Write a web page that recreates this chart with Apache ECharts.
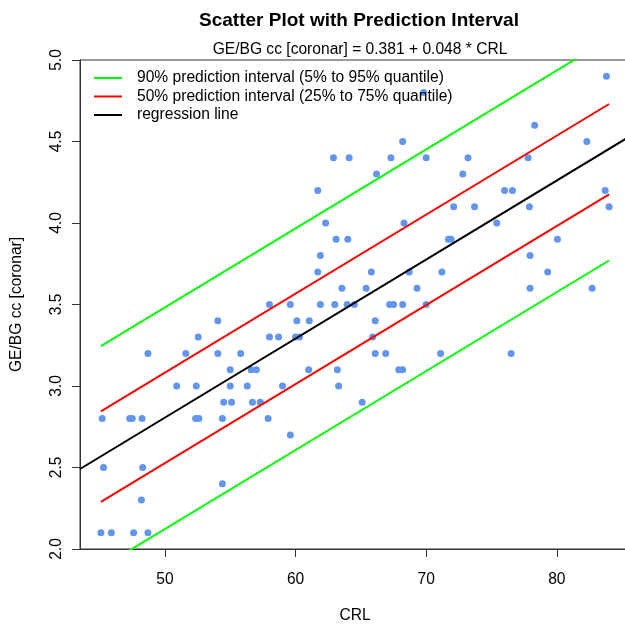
<!DOCTYPE html>
<html>
<head>
<meta charset="utf-8">
<script src="https://cdn.jsdelivr.net/npm/echarts@6/dist/echarts.min.js"></script>
<style>
  html, body { margin: 0; padding: 0; background: #fff; }
  #chart { width: 625px; height: 628px; }
</style>
</head>
<body>
<div id="chart"></div>
<script>
// CRL (x) and GE/BG cc [coronar] (y) of each point
const crl = [
  83.8, 69.8, 78.3, 68.2, 82.3,
  62.9, 64.1, 67.3, 70.0, 73.2, 77.8,
  66.2, 72.8,
  61.7, 76.0, 76.6, 83.7,
  72.1, 73.7, 77.9, 84.0,
  62.3, 68.3, 75.4,
  63.1, 64.0, 71.7, 71.9, 80.05,
  61.9, 77.95,
  61.7, 65.8, 68.7, 71.2, 79.3,
  63.55, 65.4, 69.3, 77.95, 82.7,
  58.0, 59.6, 61.9, 63.0, 63.95, 64.5, 67.2, 67.5, 68.2, 70.0,
  54.05, 60.1, 61.05, 66.1,
  52.55, 58.0, 58.7, 60.0, 60.3, 65.9,
  48.7, 51.6, 54.05, 55.8, 66.1, 66.9, 71.1, 76.5,
  55.0, 56.6, 57.0, 61.0, 63.2, 67.9, 68.2,
  50.9, 52.4, 55.0, 56.3, 59.0, 63.3,
  54.5, 55.1, 56.7, 57.3, 65.1,
  45.2, 47.3, 47.5, 48.25, 52.35, 52.6, 54.4, 57.9,
  59.6,
  45.3, 48.3,
  54.4,
  48.2,
  45.1, 45.9, 47.6, 48.7
];
const gebg = [
  4.9, 4.8, 4.6, 4.5, 4.5,
  4.4, 4.4, 4.4, 4.4, 4.4, 4.4,
  4.3, 4.3,
  4.2, 4.2, 4.2, 4.2,
  4.1, 4.1, 4.1, 4.1,
  4.0, 4.0, 4.0,
  3.9, 3.9, 3.9, 3.9, 3.9,
  3.8, 3.8,
  3.7, 3.7, 3.7, 3.7, 3.7,
  3.6, 3.6, 3.6, 3.6, 3.6,
  3.5, 3.5, 3.5, 3.5, 3.5, 3.5, 3.5, 3.5, 3.5, 3.5,
  3.4, 3.4, 3.4, 3.4,
  3.3, 3.3, 3.3, 3.3, 3.3, 3.3,
  3.2, 3.2, 3.2, 3.2, 3.2, 3.2, 3.2, 3.2,
  3.1, 3.1, 3.1, 3.1, 3.1, 3.1, 3.1,
  3.0, 3.0, 3.0, 3.0, 3.0, 3.0,
  2.9, 2.9, 2.9, 2.9, 2.9,
  2.8, 2.8, 2.8, 2.8, 2.8, 2.8, 2.8, 2.8,
  2.7,
  2.5, 2.5,
  2.4,
  2.3,
  2.1, 2.1, 2.1, 2.1
];

// regression coefficients (intercept, slope)
const coef = [0.381, 0.0485];

// prediction interval bounds at the ends of the data range
const piX = [45.1, 84.0];
const pi90Lower = [1.885, 3.77];
const pi90Upper = [3.245, 5.13];
const pi50Lower = [2.289, 4.175];
const pi50Upper = [2.844, 4.73];

const xTicks = [50, 60, 70, 80];
const xMin = 43.5;
const xMax = 85.6;

const legendNames = [
  '90% prediction interval (5% to 95% quantile)',
  '50% prediction interval (25% to 75% quantile)',
  'regression line'
];

const font = 'Liberation Sans, Arial, Helvetica, sans-serif';

function pairs (xs, ys) {
  return xs.map((x, i) => [x, ys[i]])
}

function lineSeries (name, data, color) {
  return {
    name: name,
    type: 'line',
    data: data,
    showSymbol: false,
    symbol: 'none',
    clip: true,
    silent: true,
    lineStyle: { color: color, width: 2 },
    itemStyle: { color: color },
    z: 3
  }
}

const regData = [xMin, xMax].map(x => [x, coef[0] + coef[1] * x]);

const chart = echarts.init(document.getElementById('chart'));
chart.setOption({
  animation: false,
  textStyle: { fontFamily: font },
  title: [
    {
      text: 'Scatter Plot with Prediction Interval',
      left: 354,
      top: 6,
      textAlign: 'center',
      textStyle: { fontSize: 19, fontWeight: 'bold', color: '#000', fontFamily: font }
    },
    {
      text: 'GE/BG cc [coronar] = 0.381 + 0.048 * CRL',
      left: 355,
      top: 37,
      textAlign: 'center',
      textStyle: { fontSize: 15.6, fontWeight: 'normal', color: '#000', fontFamily: font }
    }
  ],
  legend: {
    orient: 'vertical',
    left: 94,
    top: 70,
    padding: 0,
    itemWidth: 28,
    itemHeight: 2,
    itemGap: 2.5,
    icon: 'rect',
    data: legendNames,
    selectedMode: false,
    textStyle: { fontSize: 15.6, color: '#000', lineHeight: 16, padding: [0, 0, 0, 10], fontFamily: font }
  },
  grid: {
    left: 80,
    right: -5,
    top: 60,
    bottom: 79,
    containLabel: false,
    outerBoundsMode: 'none',
    show: true,
    borderColor: '#333',
    borderWidth: 1
  },
  xAxis: {
    type: 'value',
    min: xMin,
    max: xMax,
    name: 'CRL',
    nameLocation: 'middle',
    nameGap: 59,
    nameTextStyle: { fontSize: 15.6, color: '#000' },
    axisLine: { show: true, lineStyle: { color: '#333' } },
    axisTick: { show: true, length: 8, customValues: xTicks, lineStyle: { color: '#333' } },
    axisLabel: { customValues: xTicks, margin: 23, fontSize: 15.6, color: '#000' },
    splitLine: { show: false }
  },
  yAxis: {
    type: 'value',
    min: 2,
    max: 5,
    interval: 0.5,
    name: 'GE/BG cc [coronar]',
    nameLocation: 'middle',
    nameRotate: 90,
    nameGap: 55,
    nameTextStyle: { fontSize: 15.6, color: '#000' },
    axisLine: { show: true, lineStyle: { color: '#333' } },
    axisTick: { show: true, length: 8, lineStyle: { color: '#333' } },
    axisLabel: {
      rotate: 90,
      margin: 15,
      fontSize: 15.6,
      color: '#000',
      formatter: v => v.toFixed(1)
    },
    splitLine: { show: false }
  },
  series: [
    {
      type: 'scatter',
      data: pairs(crl, gebg),
      symbolSize: 7,
      itemStyle: { color: '#6495ED', opacity: 1 },
      z: 2
    },
    lineSeries(legendNames[0], pairs(piX, pi90Upper), '#00FF00'),
    lineSeries(legendNames[0], pairs(piX, pi90Lower), '#00FF00'),
    lineSeries(legendNames[1], pairs(piX, pi50Upper), '#FF0000'),
    lineSeries(legendNames[1], pairs(piX, pi50Lower), '#FF0000'),
    lineSeries(legendNames[2], regData, '#000000')
  ]
});
</script>
</body>
</html>
